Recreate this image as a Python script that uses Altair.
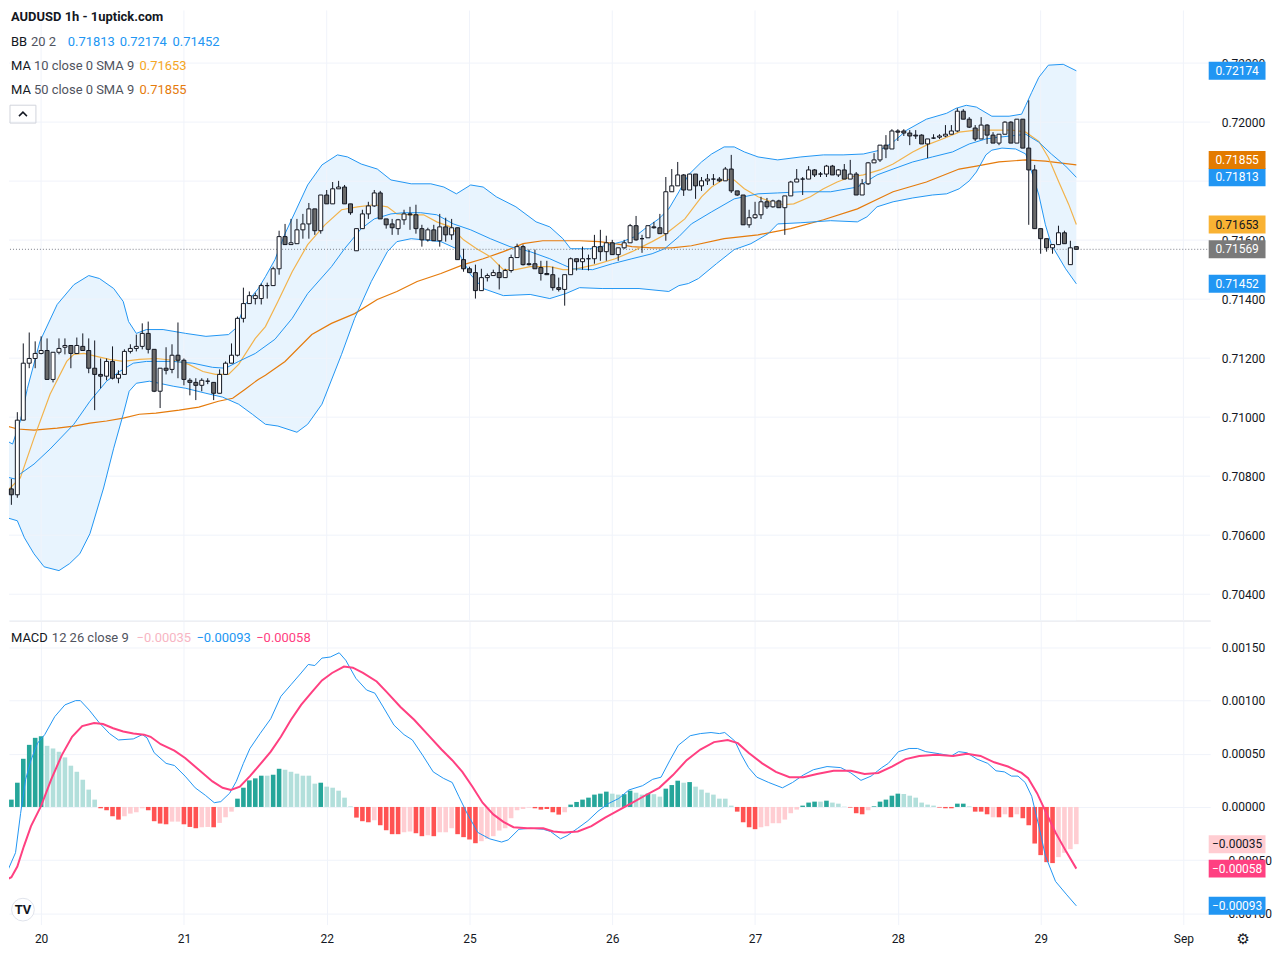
import json
import altair as alt
import pandas as pd
import numpy as np

FONT = "Roboto"

# ---------------- hourly candles (AUDUSD 1h) ----------------
open_ = [
    0.70757, 0.70737, 0.70990, 0.71183, 0.71199, 0.71216, 0.71226, 0.71128, 0.71220, 0.71237,
    0.71243, 0.71216, 0.71240, 0.71226, 0.71166, 0.71145, 0.71139, 0.71189, 0.71132, 0.71145,
    0.71223, 0.71233, 0.71240, 0.71284, 0.71230, 0.71088, 0.71166, 0.71162, 0.71210, 0.71193,
    0.71125, 0.71118, 0.71108, 0.71122, 0.71118, 0.71081, 0.71145, 0.71183, 0.71210, 0.71335,
    0.71385, 0.71402, 0.71402, 0.71446, 0.71446, 0.71503, 0.71612, 0.71585, 0.71588, 0.71635,
    0.71655, 0.71706, 0.71632, 0.71753, 0.71723, 0.71774, 0.71780, 0.71723, 0.71564, 0.71639,
    0.71689, 0.71716, 0.71760, 0.71672, 0.71655, 0.71639, 0.71669, 0.71689, 0.71686, 0.71639,
    0.71601, 0.71635, 0.71598, 0.71645, 0.71618, 0.71642, 0.71534, 0.71503, 0.71490, 0.71429,
    0.71473, 0.71480, 0.71490, 0.71473, 0.71497, 0.71541, 0.71578, 0.71520, 0.71520, 0.71507,
    0.71487, 0.71483, 0.71439, 0.71433, 0.71483, 0.71537, 0.71527, 0.71537, 0.71537, 0.71578,
    0.71561, 0.71591, 0.71551, 0.71574, 0.71591, 0.71649, 0.71605, 0.71608, 0.71645, 0.71642,
    0.71622, 0.71764, 0.71784, 0.71821, 0.71770, 0.71824, 0.71784, 0.71801, 0.71807, 0.71807,
    0.71801, 0.71841, 0.71767, 0.71753, 0.71652, 0.71676, 0.71686, 0.71730, 0.71713, 0.71733,
    0.71710, 0.71750, 0.71797, 0.71807, 0.71807, 0.71838, 0.71824, 0.71824, 0.71851, 0.71821,
    0.71838, 0.71807, 0.71824, 0.71753, 0.71791, 0.71862, 0.71872, 0.71922, 0.71909, 0.71970,
    0.71970, 0.71963, 0.71956, 0.71956, 0.71926, 0.71946, 0.71949, 0.71953, 0.71959, 0.71970,
    0.72037, 0.72010, 0.71980, 0.71943, 0.71990, 0.71956, 0.71929, 0.71959, 0.72000, 0.71929,
    0.72010, 0.71912, 0.71838, 0.71639, 0.71605, 0.71574, 0.71585, 0.71625, 0.71517, 0.71578,
]
high = [
    0.70791, 0.71017, 0.71250, 0.71287, 0.71257, 0.71274, 0.71267, 0.71220, 0.71267, 0.71267,
    0.71243, 0.71270, 0.71284, 0.71267, 0.71260, 0.71199, 0.71199, 0.71240, 0.71159, 0.71230,
    0.71247, 0.71280, 0.71318, 0.71324, 0.71230, 0.71166, 0.71237, 0.71247, 0.71321, 0.71199,
    0.71132, 0.71132, 0.71132, 0.71132, 0.71118, 0.71162, 0.71189, 0.71250, 0.71341, 0.71439,
    0.71426, 0.71422, 0.71453, 0.71456, 0.71510, 0.71632, 0.71655, 0.71672, 0.71672, 0.71689,
    0.71726, 0.71706, 0.71753, 0.71770, 0.71797, 0.71801, 0.71787, 0.71723, 0.71639, 0.71703,
    0.71730, 0.71770, 0.71767, 0.71672, 0.71672, 0.71672, 0.71703, 0.71713, 0.71720, 0.71652,
    0.71642, 0.71652, 0.71689, 0.71676, 0.71672, 0.71642, 0.71571, 0.71510, 0.71517, 0.71503,
    0.71487, 0.71500, 0.71517, 0.71503, 0.71551, 0.71588, 0.71585, 0.71568, 0.71568, 0.71530,
    0.71530, 0.71510, 0.71473, 0.71483, 0.71541, 0.71537, 0.71578, 0.71551, 0.71618, 0.71635,
    0.71615, 0.71601, 0.71574, 0.71601, 0.71655, 0.71682, 0.71618, 0.71649, 0.71662, 0.71689,
    0.71814, 0.71841, 0.71865, 0.71824, 0.71824, 0.71824, 0.71814, 0.71824, 0.71824, 0.71814,
    0.71848, 0.71889, 0.71767, 0.71753, 0.71703, 0.71730, 0.71747, 0.71743, 0.71737, 0.71737,
    0.71750, 0.71801, 0.71841, 0.71814, 0.71851, 0.71841, 0.71831, 0.71855, 0.71855, 0.71841,
    0.71858, 0.71872, 0.71831, 0.71807, 0.71865, 0.71895, 0.71922, 0.71956, 0.71976, 0.71976,
    0.71976, 0.71973, 0.71973, 0.71959, 0.71943, 0.71959, 0.71959, 0.71990, 0.71990, 0.72047,
    0.72044, 0.72017, 0.71990, 0.72017, 0.71993, 0.71966, 0.71959, 0.72003, 0.72003, 0.72010,
    0.72010, 0.72074, 0.71855, 0.71639, 0.71605, 0.71585, 0.71649, 0.71632, 0.71598, 0.71578,
]
low = [
    0.70703, 0.70727, 0.70990, 0.71166, 0.71166, 0.71213, 0.71128, 0.71118, 0.71213, 0.71213,
    0.71166, 0.71216, 0.71226, 0.71149, 0.71024, 0.71098, 0.71125, 0.71128, 0.71115, 0.71145,
    0.71216, 0.71223, 0.71230, 0.71216, 0.71085, 0.71031, 0.71145, 0.71149, 0.71132, 0.71108,
    0.71074, 0.71058, 0.71088, 0.71112, 0.71058, 0.71081, 0.71145, 0.71183, 0.71206, 0.71321,
    0.71385, 0.71382, 0.71382, 0.71402, 0.71446, 0.71483, 0.71585, 0.71585, 0.71588, 0.71605,
    0.71605, 0.71618, 0.71622, 0.71723, 0.71723, 0.71774, 0.71723, 0.71686, 0.71564, 0.71639,
    0.71672, 0.71713, 0.71672, 0.71639, 0.71618, 0.71618, 0.71652, 0.71635, 0.71622, 0.71578,
    0.71595, 0.71598, 0.71578, 0.71595, 0.71601, 0.71534, 0.71493, 0.71490, 0.71402, 0.71429,
    0.71460, 0.71480, 0.71433, 0.71473, 0.71490, 0.71541, 0.71514, 0.71514, 0.71503, 0.71463,
    0.71483, 0.71429, 0.71426, 0.71378, 0.71483, 0.71497, 0.71500, 0.71497, 0.71520, 0.71530,
    0.71530, 0.71551, 0.71530, 0.71571, 0.71591, 0.71598, 0.71557, 0.71608, 0.71639, 0.71622,
    0.71598, 0.71764, 0.71784, 0.71750, 0.71770, 0.71740, 0.71767, 0.71787, 0.71787, 0.71797,
    0.71801, 0.71760, 0.71750, 0.71652, 0.71642, 0.71672, 0.71672, 0.71706, 0.71710, 0.71710,
    0.71618, 0.71750, 0.71797, 0.71753, 0.71807, 0.71814, 0.71814, 0.71814, 0.71821, 0.71814,
    0.71807, 0.71807, 0.71753, 0.71753, 0.71787, 0.71862, 0.71865, 0.71878, 0.71909, 0.71936,
    0.71953, 0.71922, 0.71943, 0.71926, 0.71878, 0.71943, 0.71943, 0.71949, 0.71959, 0.71966,
    0.72010, 0.71980, 0.71936, 0.71943, 0.71926, 0.71929, 0.71922, 0.71959, 0.71929, 0.71929,
    0.71912, 0.71652, 0.71639, 0.71554, 0.71561, 0.71554, 0.71585, 0.71588, 0.71517, 0.71568,
]
close = [
    0.70737, 0.70990, 0.71183, 0.71199, 0.71216, 0.71226, 0.71128, 0.71220, 0.71233, 0.71243,
    0.71216, 0.71243, 0.71226, 0.71166, 0.71145, 0.71139, 0.71189, 0.71132, 0.71145, 0.71223,
    0.71233, 0.71240, 0.71284, 0.71230, 0.71088, 0.71166, 0.71159, 0.71210, 0.71193, 0.71128,
    0.71118, 0.71108, 0.71125, 0.71122, 0.71081, 0.71145, 0.71183, 0.71210, 0.71335, 0.71385,
    0.71412, 0.71412, 0.71446, 0.71446, 0.71503, 0.71612, 0.71585, 0.71591, 0.71635, 0.71655,
    0.71706, 0.71632, 0.71753, 0.71723, 0.71774, 0.71780, 0.71723, 0.71693, 0.71639, 0.71689,
    0.71716, 0.71760, 0.71672, 0.71652, 0.71642, 0.71669, 0.71689, 0.71686, 0.71639, 0.71601,
    0.71635, 0.71598, 0.71645, 0.71618, 0.71642, 0.71534, 0.71503, 0.71490, 0.71429, 0.71473,
    0.71480, 0.71490, 0.71473, 0.71497, 0.71541, 0.71578, 0.71517, 0.71517, 0.71503, 0.71487,
    0.71483, 0.71439, 0.71433, 0.71483, 0.71537, 0.71527, 0.71537, 0.71537, 0.71578, 0.71561,
    0.71591, 0.71551, 0.71574, 0.71591, 0.71649, 0.71601, 0.71605, 0.71649, 0.71642, 0.71622,
    0.71764, 0.71784, 0.71821, 0.71770, 0.71824, 0.71784, 0.71801, 0.71807, 0.71807, 0.71801,
    0.71841, 0.71767, 0.71753, 0.71652, 0.71676, 0.71686, 0.71730, 0.71713, 0.71733, 0.71710,
    0.71750, 0.71797, 0.71807, 0.71807, 0.71838, 0.71821, 0.71824, 0.71851, 0.71821, 0.71838,
    0.71807, 0.71824, 0.71753, 0.71791, 0.71862, 0.71872, 0.71922, 0.71909, 0.71970, 0.71966,
    0.71963, 0.71953, 0.71953, 0.71926, 0.71943, 0.71946, 0.71953, 0.71959, 0.71970, 0.72037,
    0.72010, 0.71983, 0.71943, 0.71990, 0.71956, 0.71929, 0.71959, 0.72000, 0.71929, 0.72010,
    0.71912, 0.71838, 0.71639, 0.71605, 0.71574, 0.71585, 0.71625, 0.71588, 0.71574, 0.71569,
]

# x-axis (bar index of day starts)
day_ticks = [5, 29, 53, 77, 101, 125, 149, 173, 197]
day_labels = ["20", "21", "22", "25", "26", "27", "28", "29", "Sep"]
price_ticks = [0.704, 0.706, 0.708, 0.710, 0.712, 0.714, 0.716, 0.718, 0.720, 0.722]
macd_ticks = [-0.001, -0.0005, 0.0, 0.0005, 0.001, 0.0015]

# ---------------- indicators (bar index, value) ----------------
bb_upper = [(-0.7, 0.70919), (0.2, 0.70909), (1.5, 0.70987), (2.7, 0.71098), (4.8, 0.71257), (7.7, 0.71382),
            (10.5, 0.71449), (13.0, 0.71480), (14.8, 0.71470), (17.2, 0.71436), (18.8, 0.71392), (19.7, 0.71324),
            (21.0, 0.71284), (22.7, 0.71297), (25.5, 0.71297), (29.3, 0.71284), (32.7, 0.71274), (36.5, 0.71280),
            (37.7, 0.71301), (39.3, 0.71382), (41.5, 0.71436), (42.7, 0.71476), (44.3, 0.71534), (46.0, 0.71622),
            (49.8, 0.71787), (52.2, 0.71855), (54.8, 0.71889), (56.5, 0.71882), (58.8, 0.71858), (61.5, 0.71841),
            (63.8, 0.71804), (67.2, 0.71791), (70.5, 0.71791), (72.7, 0.71780), (74.8, 0.71757), (77.2, 0.71787),
            (79.3, 0.71780), (81.5, 0.71747), (84.8, 0.71713), (88.2, 0.71662), (90.5, 0.71645), (92.7, 0.71605),
            (94.0, 0.71571), (97.2, 0.71571), (99.8, 0.71581), (102.7, 0.71595), (104.8, 0.71612), (106.5, 0.71639),
            (108.8, 0.71672), (110.5, 0.71706), (112.2, 0.71764), (113.8, 0.71821), (116.0, 0.71865), (117.7, 0.71892),
            (119.8, 0.71916), (121.5, 0.71916), (123.2, 0.71899), (125.5, 0.71882), (128.8, 0.71872), (132.7, 0.71882),
            (136.5, 0.71889), (139.8, 0.71889), (143.2, 0.71892), (146.0, 0.71905), (148.2, 0.71932), (150.5, 0.71973),
            (153.8, 0.72010), (157.2, 0.72030), (158.8, 0.72047), (160.5, 0.72057), (162.2, 0.72051), (164.8, 0.72020),
            (167.7, 0.72020), (169.8, 0.72027), (170.5, 0.72057), (171.5, 0.72101), (172.7, 0.72152), (174.3, 0.72193),
            (176.8, 0.72196), (179.0, 0.72174)]
bb_lower = [(-0.7, 0.70659), (1.0, 0.70649), (2.2, 0.70591), (3.8, 0.70537), (5.5, 0.70493), (8.0, 0.70480),
            (9.8, 0.70504), (11.5, 0.70537), (13.2, 0.70605), (15.5, 0.70760), (17.2, 0.70895), (18.8, 0.71010),
            (19.8, 0.71088), (21.0, 0.71115), (23.2, 0.71122), (27.2, 0.71105), (29.3, 0.71098), (32.7, 0.71081),
            (35.5, 0.71068), (38.2, 0.71044), (40.5, 0.71010), (42.7, 0.70976), (44.8, 0.70970), (48.0, 0.70949),
            (49.8, 0.70976), (52.2, 0.71044), (55.5, 0.71213), (57.7, 0.71335), (60.5, 0.71460), (63.2, 0.71561),
            (64.8, 0.71595), (67.2, 0.71605), (69.3, 0.71601), (72.2, 0.71595), (74.8, 0.71571), (77.2, 0.71483),
            (79.3, 0.71436), (82.7, 0.71412), (87.2, 0.71416), (90.5, 0.71402), (93.2, 0.71419), (95.5, 0.71439),
            (99.3, 0.71436), (105.5, 0.71436), (110.5, 0.71426), (112.2, 0.71446), (113.8, 0.71453), (115.5, 0.71470),
            (118.5, 0.71520), (121.5, 0.71568), (124.3, 0.71588), (127.2, 0.71622), (128.8, 0.71655), (132.7, 0.71659),
            (137.7, 0.71666), (142.2, 0.71662), (143.8, 0.71679), (145.5, 0.71713), (148.2, 0.71730), (151.5, 0.71743),
            (154.8, 0.71753), (157.2, 0.71757), (159.3, 0.71774), (161.0, 0.71801), (162.2, 0.71831), (163.8, 0.71889),
            (164.8, 0.71905), (166.5, 0.71912), (168.8, 0.71909), (170.5, 0.71892), (171.5, 0.71831), (172.7, 0.71753),
            (173.8, 0.71652), (174.8, 0.71585), (177.2, 0.71503), (179.0, 0.71452)]
bb_basis = [(-0.7, 0.70797), (0.5, 0.70791), (1.5, 0.70808), (3.8, 0.70841), (6.5, 0.70892), (10.5, 0.70976),
            (13.2, 0.71054), (16.0, 0.71122), (18.2, 0.71155), (20.5, 0.71183), (22.7, 0.71189), (27.2, 0.71189),
            (30.5, 0.71183), (33.8, 0.71169), (36.0, 0.71166), (38.2, 0.71189), (41.0, 0.71216), (44.3, 0.71264),
            (47.2, 0.71335), (49.8, 0.71419), (53.8, 0.71510), (56.0, 0.71571), (58.8, 0.71639), (61.0, 0.71672),
            (63.8, 0.71689), (66.0, 0.71693), (68.8, 0.71693), (71.5, 0.71686), (74.3, 0.71655), (77.2, 0.71635),
            (80.5, 0.71605), (83.8, 0.71578), (87.2, 0.71561), (90.5, 0.71537), (92.7, 0.71517), (94.3, 0.71503),
            (97.7, 0.71500), (101.0, 0.71520), (104.3, 0.71537), (107.7, 0.71554), (109.8, 0.71571), (112.2, 0.71612),
            (114.3, 0.71655), (117.7, 0.71696), (121.5, 0.71740), (125.5, 0.71757), (128.8, 0.71760), (132.7, 0.71764),
            (137.7, 0.71764), (142.2, 0.71780), (145.5, 0.71821), (148.2, 0.71841), (151.5, 0.71865), (154.8, 0.71882),
            (158.2, 0.71899), (161.0, 0.71926), (163.8, 0.71943), (166.0, 0.71949), (169.3, 0.71956), (170.5, 0.71959),
            (172.7, 0.71932), (174.8, 0.71892), (177.2, 0.71851), (179.0, 0.71813)]
ma10 = [(-0.7, 0.70750), (1.5, 0.70794), (3.8, 0.70929), (6.5, 0.71078), (9.3, 0.71189), (10.5, 0.71213),
        (12.2, 0.71216), (14.3, 0.71206), (16.5, 0.71196), (18.8, 0.71189), (21.5, 0.71196), (24.3, 0.71199),
        (27.2, 0.71193), (29.8, 0.71179), (32.2, 0.71155), (34.3, 0.71145), (36.5, 0.71145), (38.2, 0.71179),
        (41.0, 0.71267), (42.7, 0.71307), (44.8, 0.71392), (47.2, 0.71493), (49.8, 0.71585), (52.7, 0.71652),
        (55.5, 0.71703), (58.2, 0.71713), (61.0, 0.71720), (63.2, 0.71713), (64.8, 0.71689), (67.2, 0.71686),
        (69.3, 0.71686), (71.5, 0.71662), (73.8, 0.71645), (76.0, 0.71601), (78.2, 0.71571), (80.5, 0.71544),
        (82.7, 0.71500), (84.8, 0.71500), (87.2, 0.71510), (90.5, 0.71510), (92.7, 0.71500), (94.3, 0.71500),
        (98.2, 0.71517), (101.5, 0.71537), (104.3, 0.71561), (107.7, 0.71595), (109.8, 0.71618), (113.2, 0.71672),
        (116.0, 0.71747), (117.7, 0.71780), (119.8, 0.71807), (121.5, 0.71804), (123.2, 0.71774), (125.5, 0.71747),
        (127.7, 0.71730), (129.8, 0.71720), (131.5, 0.71723), (134.3, 0.71747), (136.5, 0.71774), (138.8, 0.71797),
        (141.0, 0.71814), (143.2, 0.71821), (146.0, 0.71838), (148.2, 0.71858), (151.5, 0.71899), (153.8, 0.71922),
        (156.5, 0.71943), (159.3, 0.71966), (162.2, 0.71973), (164.8, 0.71973), (168.2, 0.71973), (170.5, 0.71966),
        (172.7, 0.71935), (174.3, 0.71880), (176.0, 0.71800), (177.7, 0.71722), (179.0, 0.71653)]
ma50 = [(-0.7, 0.70970), (1.0, 0.70960), (3.8, 0.70956), (7.7, 0.70963), (10.5, 0.70970), (13.2, 0.70980),
        (16.0, 0.70987), (18.8, 0.70997), (21.5, 0.71010), (24.3, 0.71014), (28.2, 0.71024), (31.5, 0.71034),
        (34.8, 0.71054), (37.2, 0.71064), (39.3, 0.71095), (41.5, 0.71128), (42.7, 0.71142), (46.0, 0.71189),
        (50.5, 0.71280), (53.8, 0.71318), (57.7, 0.71351), (61.5, 0.71399), (64.8, 0.71426), (68.2, 0.71460),
        (72.2, 0.71487), (76.0, 0.71517), (79.3, 0.71537), (82.7, 0.71561), (86.0, 0.71588), (89.3, 0.71598),
        (92.7, 0.71598), (95.5, 0.71598), (98.8, 0.71595), (101.5, 0.71588), (104.3, 0.71578), (107.7, 0.71574),
        (111.0, 0.71574), (114.3, 0.71581), (119.8, 0.71605), (125.5, 0.71618), (131.0, 0.71639), (136.5, 0.71669),
        (142.2, 0.71706), (146.0, 0.71743), (148.2, 0.71764), (153.8, 0.71797), (159.3, 0.71841), (162.2, 0.71851),
        (166.0, 0.71865), (170.5, 0.71872), (173.8, 0.71868), (179.0, 0.71855)]

macd_line = [(-0.7, -0.00061), (0.7, -0.00043), (1.55, -0.00006), (2.4, 0.00026), (3.3, 0.00044), (4.4, 0.00060),
             (5.6, 0.00068), (7.3, 0.00085), (9.0, 0.00096), (10.8, 0.00100), (11.6, 0.00100), (13.1, 0.00091),
             (14.8, 0.00079), (16.5, 0.00069), (18.0, 0.00063), (20.5, 0.00064), (22.0, 0.00068), (22.8, 0.00065),
             (24.0, 0.00051), (26.0, 0.00041), (27.4, 0.00039), (29.2, 0.00029), (30.9, 0.00018), (32.6, 0.00011),
             (34.1, 0.00004), (35.2, 0.00005), (36.7, 0.00013), (37.8, 0.00024), (39.0, 0.00041), (40.1, 0.00055),
             (41.8, 0.00069), (43.6, 0.00083), (45.3, 0.00104), (47.0, 0.00115), (48.7, 0.00126), (49.9, 0.00134),
             (51.0, 0.00133), (52.2, 0.00140), (53.6, 0.00141), (55.1, 0.00145), (56.2, 0.00138), (57.9, 0.00121),
             (59.7, 0.00110), (61.1, 0.00107), (62.5, 0.00094), (64.3, 0.00077), (66.0, 0.00068), (67.4, 0.00063),
             (69.2, 0.00048), (70.9, 0.00033), (72.6, 0.00027), (74.1, 0.00023), (75.2, 0.00010), (76.6, -0.00006),
             (78.4, -0.00024), (80.4, -0.00030), (82.4, -0.00033), (83.5, -0.00031), (85.3, -0.00021), (87.3, -0.00020),
             (89.4, -0.00021), (90.6, -0.00023), (92.3, -0.00030), (93.4, -0.00027), (95.2, -0.00020), (96.9, -0.00013),
             (98.6, -0.00004), (100.3, 0.00003), (102.1, 0.00008), (103.8, 0.00016), (106.1, 0.00020), (107.8, 0.00026),
             (109.2, 0.00028), (110.7, 0.00044), (112.1, 0.00058), (114.1, 0.00067), (115.8, 0.00069), (117.6, 0.00070),
             (119.0, 0.00069), (119.9, 0.00070), (121.6, 0.00062), (122.7, 0.00049), (123.9, 0.00037), (125.3, 0.00028),
             (127.3, 0.00023), (129.6, 0.00018), (131.3, 0.00023), (133.1, 0.00030), (134.8, 0.00035), (137.1, 0.00038),
             (139.4, 0.00037), (141.1, 0.00032), (142.8, 0.00025), (144.5, 0.00029), (146.3, 0.00037), (147.4, 0.00041),
             (149.1, 0.00052), (150.9, 0.00055), (152.3, 0.00055), (153.7, 0.00052), (156.0, 0.00050), (158.0, 0.00048),
             (159.2, 0.00052), (160.6, 0.00051), (162.3, 0.00045), (164.1, 0.00041), (165.5, 0.00034), (166.9, 0.00033),
             (168.1, 0.00029), (169.2, 0.00029), (170.4, 0.00023), (171.5, 0.00010), (172.7, -0.00018), (173.8, -0.00046),
             (175.5, -0.00070), (177.3, -0.00082), (179.0, -0.00093)]
signal_line = [(-0.7, -0.00068), (0.0, -0.00066), (1.0, -0.00056), (2.1, -0.00037), (3.3, -0.00018), (5.0, 0.00001),
               (6.7, 0.00026), (8.5, 0.00049), (10.2, 0.00066), (11.9, 0.00076), (13.9, 0.00079), (15.4, 0.00078),
               (17.1, 0.00074), (18.8, 0.00071), (20.5, 0.00069), (22.3, 0.00068), (23.4, 0.00066), (25.1, 0.00059),
               (27.4, 0.00053), (29.2, 0.00046), (31.5, 0.00035), (33.8, 0.00024), (35.5, 0.00018), (36.9, 0.00016),
               (38.4, 0.00019), (40.1, 0.00029), (41.8, 0.00040), (43.6, 0.00052), (45.3, 0.00066), (47.0, 0.00082),
               (48.7, 0.00096), (50.5, 0.00108), (52.2, 0.00119), (53.9, 0.00126), (55.9, 0.00132), (57.4, 0.00131),
               (59.1, 0.00126), (61.4, 0.00118), (63.1, 0.00108), (65.4, 0.00094), (67.7, 0.00082), (70.0, 0.00068),
               (72.3, 0.00054), (74.1, 0.00044), (75.8, 0.00033), (77.5, 0.00019), (79.2, 0.00004), (81.0, -0.00007),
               (82.7, -0.00014), (84.4, -0.00019), (86.7, -0.00020), (89.4, -0.00020), (91.1, -0.00023), (92.9, -0.00024),
               (95.2, -0.00023), (97.5, -0.00018), (99.8, -0.00010), (102.1, -0.00003), (104.4, 0.00004), (106.6, 0.00011),
               (108.9, 0.00018), (111.2, 0.00030), (113.5, 0.00044), (115.8, 0.00054), (118.1, 0.00061), (120.4, 0.00063),
               (122.1, 0.00060), (123.9, 0.00051), (126.2, 0.00041), (128.5, 0.00033), (130.8, 0.00028), (133.1, 0.00028),
               (135.4, 0.00031), (138.2, 0.00034), (141.1, 0.00034), (143.4, 0.00031), (145.7, 0.00032), (148.0, 0.00038),
               (150.3, 0.00045), (152.6, 0.00048), (155.4, 0.00049), (158.3, 0.00048), (160.6, 0.00050), (162.9, 0.00048),
               (165.2, 0.00042), (167.5, 0.00038), (169.8, 0.00032), (170.9, 0.00027), (172.4, 0.00013), (173.8, -0.00004),
               (175.5, -0.00024), (177.3, -0.00042), (179.0, -0.00058)]

hist = [
    0.000069, 0.000228, 0.000453, 0.000584, 0.00065, 0.000666, 0.000575, 0.00055, 0.000519, 0.000466,
    0.000388, 0.000331, 0.000256, 0.000163, 0.000069, -0.0000125, -0.000031, -0.0000875, -0.000119, -0.0000875,
    -0.0000625, -0.00005, -0.0000125, -0.000031, -0.000134, -0.000156, -0.000163, -0.000138, -0.000138, -0.000163,
    -0.000188, -0.0002, -0.000191, -0.000188, -0.000191, -0.00015, -0.000097, -0.000044, 0.000078, 0.000181,
    0.00025, 0.000269, 0.000294, 0.000294, 0.000303, 0.000359, 0.00035, 0.000331, 0.000313, 0.000294,
    0.000294, 0.000219, 0.000228, 0.000191, 0.000181, 0.000153, 0.0000875, 0.000006, -0.0001, -0.000134,
    -0.000144, -0.000125, -0.000172, -0.000219, -0.000256, -0.000256, -0.000238, -0.000231, -0.000247, -0.000275,
    -0.000266, -0.000275, -0.000238, -0.000238, -0.0002, -0.000256, -0.000284, -0.000306, -0.000341, -0.000322,
    -0.0003, -0.000275, -0.000222, -0.0002, -0.000106, -0.000031, -0.000019, -0.000006, -0.0000125, -0.000025,
    -0.000019, -0.00005, -0.000072, -0.00005, 0.000022, 0.000047, 0.000069, 0.0000875, 0.000116, 0.000125,
    0.000144, 0.000125, 0.000116, 0.00012, 0.000153, 0.000134, 0.000116, 0.000125, 0.00012, 0.000097,
    0.000172, 0.000206, 0.000247, 0.000228, 0.000234, 0.000191, 0.000163, 0.000134, 0.000116, 0.000078,
    0.000078, 0.0000125, -0.000044, -0.000144, -0.000191, -0.000209, -0.000191, -0.000181, -0.000153, -0.000153,
    -0.000119, -0.000059, -0.000025, 0.0000125, 0.000041, 0.00005, 0.00005, 0.000059, 0.000041, 0.000031,
    0.000003, -0.000006, -0.000059, -0.000069, -0.000031, 0.000006, 0.00005, 0.000069, 0.000106, 0.000125,
    0.000122, 0.000106, 0.0000875, 0.000041, 0.000022, 0.0000125, -0.000006, -0.0000125, -0.0000125, 0.000031,
    0.000031, 0.000006, -0.000044, -0.000044, -0.000069, -0.000097, -0.000097, -0.000069, -0.000097, -0.000069,
    -0.000106, -0.000172, -0.000344, -0.000453, -0.000519, -0.000528, -0.000472, -0.000431, -0.000397, -0.00035,
]
# G = rising positive, g = falling positive, R = falling negative, r = rising negative
hist_runs = [("G", 6), ("g", 9), ("R", 4), ("r", 4), ("R", 4), ("r", 2), ("R", 3), ("r", 2), ("R", 1), ("r", 3),
             ("G", 5), ("g", 1), ("G", 2), ("g", 6), ("G", 1), ("g", 5), ("R", 3), ("r", 1), ("R", 4), ("r", 2),
             ("R", 2), ("r", 1), ("R", 1), ("r", 3), ("R", 4), ("r", 9), ("R", 2),
             ("R", 3), ("r", 1), ("G", 7), ("g", 2), ("G", 2), ("g", 2), ("G", 1), ("g", 2), ("G", 3), ("g", 1),
             ("G", 1), ("g", 7), ("R", 4), ("r", 7), ("G", 3), ("g", 1), ("G", 1), ("g", 3), ("R", 3), ("r", 1),
             ("G", 5), ("g", 6), ("R", 3), ("G", 2), ("g", 1), ("R", 3), ("r", 1), ("R", 1), ("r", 1), ("R", 1),
             ("r", 1), ("R", 6), ("r", 4)]

# last values shown in the legends / price scale
last_bb = (0.71813, 0.72174, 0.71452)
last_ma10 = 0.71653
last_ma50 = 0.71855
last_macd = (-0.00035, -0.00093, -0.00058)  # histogram, macd, signal

# ---------------- styles ----------------
BLUE = "#2196f3"
MA10C = "#f2b34c"
MA50C = "#e57b0c"
PINK = "#ff4081"
TXT = "#131722"
SUB = "#50535e"
GRID = "#f0f3fa"
W = 1205
H_TOP = 612
H_BOT = 304
XMIN, XMAX = -0.4, 201.5

XS = alt.Scale(domain=[XMIN, XMAX], nice=False, zero=False, padding=0)
YS = alt.Scale(domain=[0.703108, 0.723784], nice=False, zero=False, padding=0)
MS = alt.Scale(domain=[-0.0011063, 0.0017437], nice=False, zero=False, padding=0)

x_top_axis = alt.Axis(values=day_ticks, labels=False, ticks=False, grid=False, domain=True,
                      domainColor="#dfe1e8", domainWidth=1, title=None)
label_expr = (json.dumps(day_labels).replace('"', "'") + "[indexof(" + json.dumps(day_ticks)
              + ", datum.value)]")
x_bot_axis = alt.Axis(values=day_ticks, labelExpr=label_expr, ticks=False, domain=False, grid=True,
                      gridColor=GRID, labelPadding=9, labelFontSize=12, labelColor=TXT, labelFont=FONT,
                      title=None, labelOverlap=False)
y_top_axis = alt.Axis(orient="right", values=price_ticks, format=".5f", labelPadding=11, ticks=False,
                      domain=False, grid=False, title=None, labelColor=TXT, labelFontSize=12, labelFont=FONT)
y_bot_axis = alt.Axis(orient="right", values=macd_ticks, format=".5f", labelPadding=11, ticks=False,
                      domain=False, grid=True, gridColor=GRID, title=None, labelColor=TXT, labelFontSize=12,
                      labelFont=FONT)


def XT(f="t"):
    return alt.X(f, type="quantitative", scale=XS, axis=x_top_axis)


def XB(f="t"):
    return alt.X(f, type="quantitative", scale=XS, axis=x_bot_axis)


def YT(f):
    return alt.Y(f, type="quantitative", scale=YS, axis=y_top_axis, stack=None)


def YB(f):
    return alt.Y(f, type="quantitative", scale=MS, axis=y_bot_axis, stack=None)


ONE = pd.DataFrame({"a": [0]})


def txt(s, x, y, color, size=13, weight="normal", align="left", font=FONT):
    return alt.Chart(ONE).mark_text(text=s, x=x, y=y, color=color, fontSize=size, fontWeight=weight,
                                    align=align, baseline="middle", font=font)


def pairs_df(p):
    return pd.DataFrame(p, columns=["t", "v"])


# ---------------- data frames ----------------
n = min(len(open_), len(high), len(low), len(close))
cdf = pd.DataFrame({"t": np.arange(n), "o": open_[:n], "h": high[:n], "l": low[:n], "c": close[:n]})
cdf["fc"] = np.where(cdf["c"] >= cdf["o"], "#ffffff", "#6a6a6a")

codes = "".join(c * k for c, k in hist_runs)
m = min(len(hist), len(codes))
cmap = {"G": "#26a69a", "g": "#b2dfdb", "R": "#ff5252", "r": "#ffcdd2"}
hdf = pd.DataFrame({"t": np.arange(m), "h": hist[:m], "col": [cmap[c] for c in codes[:m]]})

BOX = "M-1,-0.316L1,-0.316L1,0.316L-1,0.316Z"
BOX_SIZE = 57 * 57
TAG_X = 1232


def tag_layers(vals, bgs, fgs, yfun, dy=0):
    df = pd.DataFrame({"v": vals, "bg": bgs, "fg": fgs})
    df["label"] = [f"{v:.5f}".replace("-", "\u2212") for v in df["v"]]
    box = alt.Chart(df).mark_point(shape=BOX, size=BOX_SIZE, filled=True, opacity=1, strokeWidth=0,
                                   yOffset=dy).encode(
        x=alt.value(TAG_X), y=yfun("v"), fill=alt.Fill("bg:N", scale=None))
    lab = alt.Chart(df).mark_text(fontSize=12, font=FONT, align="center", baseline="middle", yOffset=dy).encode(
        x=alt.value(TAG_X), y=yfun("v"), text="label:N", color=alt.Color("fg:N", scale=None))
    return [box, lab]


# TradingView pushes the MA50 tag up a little so it does not cover the BB-basis tag
top_tags = (tag_layers([last_bb[1], last_bb[0], last_ma10, close[n - 1], last_bb[2]],
                       [BLUE, BLUE, "#f9b233", "#7a7a7a", BLUE],
                       ["#ffffff", "#ffffff", TXT, "#ffffff", "#ffffff"], YT)
            + tag_layers([last_ma50], ["#e37b00"], ["#ffffff"], YT, dy=-5))
bot_tags = tag_layers([last_macd[0], last_macd[2], last_macd[1]], ["#ffcdd2", PINK, BLUE],
                      [TXT, "#ffffff", "#ffffff"], YB)

# ---------------- price panel ----------------
band_up = alt.Chart(pairs_df(bb_upper)).mark_area(color=BLUE, opacity=0.1, clip=True).encode(
    x=XT(), y=YT("v"), y2=alt.datum(0.70))
band_low = alt.Chart(pairs_df(bb_lower)).mark_area(color="#ffffff", opacity=1, clip=True).encode(
    x=XT(), y=YT("v"), y2=alt.datum(0.70))
hgrid = alt.Chart(pd.DataFrame({"v": price_ticks})).mark_rule(color=GRID, strokeWidth=1).encode(y=YT("v"))
vgrid = alt.Chart(pd.DataFrame({"t": day_ticks})).mark_rule(color=GRID, strokeWidth=1).encode(x=XT())


def pline(p, color, w):
    return alt.Chart(pairs_df(p)).mark_line(color=color, strokeWidth=w, clip=True).encode(x=XT(), y=YT("v"))


last_line = alt.Chart(pd.DataFrame({"v": [close[n - 1]]})).mark_rule(
    color="#7a7d88", strokeDash=[1, 2], strokeWidth=1).encode(y=YT("v"))
wicks = alt.Chart(cdf).mark_rule(color=TXT, strokeWidth=1).encode(x=XT(), y=YT("l"), y2=alt.Y2("h"))
bodies = alt.Chart(cdf).mark_bar(size=4, stroke=TXT, strokeWidth=1).encode(
    x=XT(), y=YT("o"), y2=alt.Y2("c"), fill=alt.Fill("fc:N", scale=None))

btn = alt.Chart(ONE).mark_point(shape="M-1,-0.69L1,-0.69L1,0.69L-1,0.69Z", size=676, filled=False,
                                stroke="#d1d4dc", strokeWidth=1, opacity=1, x=14, y=104)
chev = alt.Chart(ONE).mark_point(shape="M-1,0.5L0,-0.5L1,0.5", size=64, filled=False, stroke=TXT,
                                 strokeWidth=1.5, opacity=1, x=14, y=104)

top = alt.layer(
    band_up, band_low, hgrid, vgrid,
    pline(ma50, MA50C, 1.2), pline(ma10, MA10C, 1.2),
    pline(bb_lower, BLUE, 1), pline(bb_upper, BLUE, 1), pline(bb_basis, BLUE, 1),
    last_line, wicks, bodies, *top_tags,
    txt("AUDUSD 1h - 1uptick.com", 2, 7, TXT, 13, "bold"),
    txt("BB", 2, 32, TXT), txt("20 2", 22, 32, SUB),
    txt(f"{last_bb[0]:.5f}", 59, 32, BLUE), txt(f"{last_bb[1]:.5f}", 111, 32, BLUE),
    txt(f"{last_bb[2]:.5f}", 164, 32, BLUE),
    txt("MA", 2, 56, TXT), txt("10 close 0 SMA 9", 25, 56, SUB), txt(f"{last_ma10:.5f}", 131, 56, "#f5a623"),
    txt("MA", 2, 80, TXT), txt("50 close 0 SMA 9", 25, 80, SUB), txt(f"{last_ma50:.5f}", 131, 80, MA50C),
    btn, chev,
).properties(width=W, height=H_TOP)

# ---------------- MACD panel ----------------
bars = alt.Chart(hdf).mark_bar(size=4.6).encode(
    x=XB(), y=YB("h"), y2=alt.datum(0), color=alt.Color("col:N", scale=None))
mline = alt.Chart(pairs_df(macd_line)).mark_line(color=BLUE, strokeWidth=1, clip=True).encode(x=XB(), y=YB("v"))
sline = alt.Chart(pairs_df(signal_line)).mark_line(color=PINK, strokeWidth=2, clip=True).encode(x=XB(), y=YB("v"))

logo_c = alt.Chart(ONE).mark_point(shape="circle", size=520, filled=True, fill="#ffffff", stroke="#e0e3eb",
                                   strokeWidth=1, opacity=1, x=14, y=289)
logo_t = txt("TV", 14, 289, TXT, 13, "bold", "center")
gear = txt("\u2699", 1238, 318, TXT, 15, "normal", "center", "DejaVu Sans")

macd_vals = [f"{v:.5f}".replace("-", "\u2212") for v in last_macd]
bot = alt.layer(
    bars, mline, sline, *bot_tags,
    txt("MACD", 2, 17, TXT), txt("12 26 close 9", 43, 17, SUB),
    txt(macd_vals[0], 128, 17, "#f7b5c3"),
    txt(macd_vals[1], 188, 17, BLUE),
    txt(macd_vals[2], 248, 17, PINK),
    logo_c, logo_t, gear,
).properties(width=W, height=H_BOT)

chart = alt.vconcat(top, bot, spacing=0).properties(
    padding={"left": 0, "top": 0, "right": 0, "bottom": 0}, background="#ffffff"
).configure_view(stroke=None)

chart.save("out.html", embed_options={"renderer": "svg", "actions": False})
